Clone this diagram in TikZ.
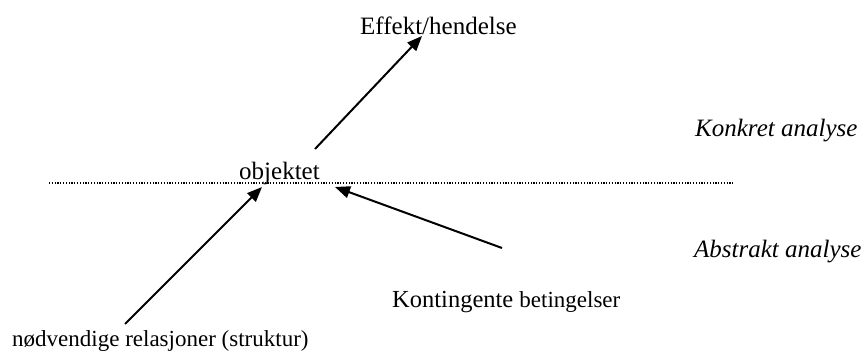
\documentclass[tikz,border=0pt]{standalone}
\usepackage{fontspec}
\setmainfont{Liberation Serif}
\usetikzlibrary{arrows.meta}
\begin{document}
\begin{tikzpicture}[x=1pt,y=-1pt,
  lbl/.style={anchor=base west,inner sep=0pt,font=\fontsize{25}{30}\selectfont},
  ilbl/.style={lbl,font=\fontsize{25}{30}\selectfont\itshape},
  arr/.style={line width=2pt,-{Triangle[length=15pt,width=12pt]}},
  sep/.style={line width=1.2pt,dash pattern=on 1.2pt off 1.6pt,black}]
\useasboundingbox (0,0) rectangle (867,352);
\node[lbl] (eff) at (360,35) {Effekt/hendelse};
\node[lbl] (obj) at (239,180) {objektet};
\node[ilbl] (konk) at (695,137) {Konkret analyse};
\node[ilbl] (abst) at (694,258) {Abstrakt analyse};
\node[lbl] (kont) at (392,308) {\fontsize{24.5}{30}\selectfont Kontingente {\fontsize{23}{30}\selectfont betingelser}};
\node[lbl,font=\fontsize{23}{30}\selectfont] (nod) at (12,346) {nødvendige relasjoner (struktur)};
\coordinate (sepA) at (49,183);
\coordinate (sepB) at (733,183);
\draw[sep] (sepA) -- (sepB);
\coordinate (upS) at (315,149);
\coordinate (upE) at (422,36);
\coordinate (lS) at (125,324);
\coordinate (lE) at (262,187);
\coordinate (rS) at (502,248);
\coordinate (rE) at (335,187);
\draw[arr] (upS) -- (upE);
\draw[arr] (lS) -- (lE);
\draw[arr] (rS) -- (rE);
\end{tikzpicture}
\end{document}
